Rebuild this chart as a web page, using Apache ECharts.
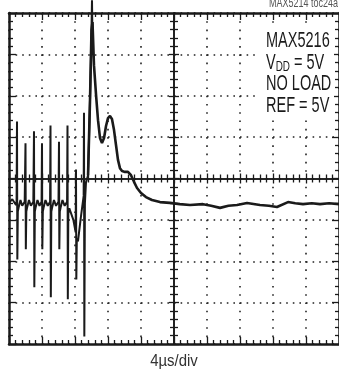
<!DOCTYPE html>
<html>
<head>
<meta charset="utf-8">
<script src="https://cdn.jsdelivr.net/npm/echarts@6/dist/echarts.min.js"></script>
<style>
  html, body { margin: 0; padding: 0; background: #fff; }
  #scope { width: 339px; height: 379px; }
</style>
</head>
<body>
<div id="scope"></div>
<script>
// time in µs (4 µs/div, 10 div), level in divisions (8 div)
var glitchT = [0, 0.4, 0.85,
  0.92, 0.97, 1.01, 1.07, 1.19, 1.39, 1.6, 1.9,
  1.95, 2.0, 2.04, 2.1, 2.22, 2.42, 2.65, 2.95,
  2.98, 3.03, 3.07, 3.13, 3.25, 3.45, 3.7, 3.95,
  3.96, 4.0, 4.04, 4.1, 4.22, 4.42, 4.7, 4.98,
  4.99, 5.03, 5.07, 5.13, 5.25, 5.45, 5.7, 6.0,
  6.02, 6.06, 6.1, 6.16, 6.28, 6.48, 6.75, 7.04,
  7.05, 7.09, 7.13, 7.19, 7.31, 7.5, 7.8, 8.08,
  8.12, 8.16, 8.22, 8.36, 8.7, 9.05,
  9.09, 9.13, 9.2, 9.33, 9.58, 9.82, 10.0, 10.06, 10.12];
var glitchV = [-0.59, -0.5, -0.64,
  -0.55, 1.38, -1.96, -0.8, -0.68, -0.52, -0.66, -0.56,
  -0.55, 0.85, -1.71, -0.8, -0.68, -0.52, -0.66, -0.56,
  -0.55, 1.14, -2.63, -0.8, -0.68, -0.52, -0.66, -0.56,
  -0.55, 0.85, -1.71, -0.8, -0.68, -0.52, -0.66, -0.56,
  -0.55, 1.28, -2.87, -0.8, -0.68, -0.52, -0.66, -0.56,
  -0.55, 0.89, -1.71, -0.8, -0.68, -0.52, -0.66, -0.56,
  -0.55, 1.28, -2.92, -0.85, -0.72, -0.75, -1.0, -1.3,
  0.22, -2.44, -1.45, -1.52, -0.95, -0.42,
  1.59, -3.82, -0.6, -0.1, 0.08, 1.9, 3.59, 4.31, 3.35];

var settleT = [9.58, 9.82, 10.0, 10.12, 10.3, 10.55, 10.79, 11.03, 11.27, 11.52, 11.76,
  12.0, 12.24, 12.48, 12.73, 12.97, 13.21, 13.45, 13.7, 14.06, 14.42, 14.79, 15.15,
  15.52, 16.0, 16.6, 17.33, 18.3, 19.5, 20.7, 21.94, 23.52, 24.5, 25.58, 26.6, 27.64,
  28.85, 30.42, 31.5, 32.48, 33.82, 34.7, 35.64, 36.7, 37.7, 38.8, 40];
var settleV = [0.08, 1.9, 3.59, 3.78, 2.74, 2.02, 1.41, 0.98, 0.86, 0.98, 1.27,
  1.46, 1.51, 1.44, 1.17, 0.81, 0.45, 0.25, 0.18, 0.16, 0.16, 0.08, -0.08,
  -0.23, -0.35, -0.45, -0.52, -0.57, -0.59, -0.62, -0.64, -0.62, -0.66, -0.71, -0.66, -0.64,
  -0.59, -0.64, -0.66, -0.69, -0.57, -0.6, -0.62, -0.6, -0.62, -0.6, -0.62];

var noteLines = ['MAX5216', '{a|V}{s|DD}{a| = 5V}', 'NO LOAD', 'REF = 5V'];

function pairs(t, v) {
  return t.map(function (x, i) { return [x, v[i]]; });
}

var chart = echarts.init(document.getElementById('scope'));
var ink = '#1a1a1a';
var face = '"Liberation Sans", Arial, sans-serif';

function frameAxis(pos, dash, isX) {
  var a = {
    type: 'value', position: pos,
    min: isX ? 0 : -4, max: isX ? 40 : 4, interval: isX ? 4 : 1,
    gridIndex: 0,
    axisLabel: { show: false },
    axisLine: { show: true, onZero: false, lineStyle: { color: ink, width: 2.5 } },
    axisTick: { show: true, inside: true, length: 7, lineStyle: { color: ink, width: 1.3 } },
    minorTick: { show: true, splitNumber: 5, length: 4, lineStyle: { color: ink, width: 1.3 } },
    splitLine: { show: false }
  };
  if (dash) {
    a.splitLine = { show: true, lineStyle: { color: '#222', width: 1.6, type: dash } };
  }
  return a;
}

function centerAxis(pos, isX) {
  return {
    type: 'value', position: pos, gridIndex: 1,
    min: isX ? -20 : -4, max: isX ? 20 : 4, interval: isX ? 4 : 1,
    axisLabel: { show: false },
    axisLine: { show: true, onZero: true, lineStyle: { color: ink, width: 1.6 } },
    axisTick: { show: true, inside: true, length: 5, lineStyle: { color: ink, width: 1.3 } },
    minorTick: { show: true, splitNumber: 5, length: 4, lineStyle: { color: ink, width: 1.3 } },
    splitLine: { show: false }
  };
}

var noteText = noteLines.map(function (s, i) {
  return {
    type: 'text', x: 266, y: 41 + i * 21.5, scaleX: 0.66, z: 110,
    style: {
      text: s, fill: ink, font: '22px ' + face, verticalAlign: 'middle',
      rich: {
        a: { fontSize: 22, fontFamily: face, fill: ink },
        s: { fontSize: 15, fontFamily: face, fill: ink, padding: [9, 0, 0, 0] }
      }
    }
  };
});

var option = {
  animation: false,
  grid: [
    { left: 9, top: 13, right: 0, bottom: 35 },
    { left: 9, top: 13, right: 0, bottom: 35 }
  ],
  xAxis: [
    frameAxis('bottom', [1.6, 6.67], true),
    frameAxis('top', null, true),
    centerAxis('bottom', true),
    centerAxis('top', true)
  ],
  yAxis: [
    frameAxis('left', [1.6, 5.0], false),
    frameAxis('right', null, false),
    centerAxis('left', false),
    centerAxis('right', false)
  ],
  series: [
    {
      name: 'glitch', type: 'line', xAxisIndex: 0, yAxisIndex: 0,
      data: pairs(glitchT, glitchV), showSymbol: false, clip: false,
      lineStyle: { color: ink, width: 2 }
    },
    {
      name: 'settle', type: 'line', xAxisIndex: 0, yAxisIndex: 0,
      data: pairs(settleT, settleV), showSymbol: false, clip: false,
      lineStyle: { color: ink, width: 2.6 }
    }
  ],
  graphic: [
    {
      type: 'rect', z: 100,
      shape: { x: 258, y: 25, width: 76, height: 90 },
      style: { fill: '#fff' }
    },
    {
      type: 'text', x: 338, y: 4, scaleX: 0.72,
      style: { text: 'MAX5214 toc24a', fill: '#555', font: '12.5px ' + face, align: 'right', verticalAlign: 'middle' }
    },
    {
      type: 'text', x: 174, y: 361, scaleX: 0.88,
      style: { text: '4µs/div', fill: '#333', font: '17px ' + face, align: 'center', verticalAlign: 'middle' }
    }
  ].concat(noteText)
};

chart.setOption(option);
</script>
</body>
</html>
